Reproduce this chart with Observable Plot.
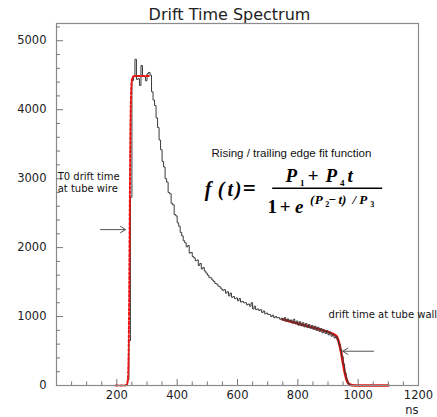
<!DOCTYPE html>
<html><head><meta charset="utf-8">
<script src="https://cdn.jsdelivr.net/npm/d3@7"></script>
<script src="https://cdn.jsdelivr.net/npm/@observablehq/plot@0.6"></script>
<style>body{margin:0;background:#fff;} svg{display:block;}</style>
</head><body><div id="chart"></div>
<script>
// Histogram: 5 ns bins starting at 200 ns
const firstBin = 200;
const binWidth = 5;
const counts = [
  0,0,0,0,0,0,0,80,650,2730,                       // 200-245
  4420,4480,4730,4440,4450,4350,4640,4480,4480,4420, // 250-295
  4520,4540,4500,4260,4140,4060,3880,3740,3560,3420, // 300-345
  3250,3170,3000,2950,2800,2780,2640,2620,2480,2460, // 350-395
  2360,2310,2220,2170,2100,2070,2010,2030,1920,1930, // 400-445
  1870,1850,1810,1820,1740,1770,1690,1710,1660,1630, // 450-495
  1600,1570,1560,1530,1510,1480,1470,1440,1430,1400, // 500-545
  1380,1390,1340,1360,1300,1340,1280,1290,1260,1270, // 550-595
  1230,1260,1210,1220,1200,1200,1170,1180,1150,1200, // 600-645
  1110,1150,1100,1110,1090,1100,1060,1080,1040,1050, // 650-695
  1030,1030,1000,1020,985,1000,980,985,960,975,      // 700-745
  945,985,930,965,925,950,905,960,895,935,           // 750-795
  875,925,865,910,850,900,840,885,830,870,           // 800-845
  815,860,800,845,785,825,765,805,755,795,           // 850-895
  735,775,715,740,690,710,660,600,520,420,           // 900-945
  310,180,90,35,10,0,0,0,0,0                         // 950-995
];

// Fit curves
const riseFitT = [196, 225, 232, 236, 239, 241, 243, 245, 247, 250, 254, 260, 280, 308];
const riseFitV = [0,   0,   10,  60,  420, 1300,2600,3700,4200,4430,4480,4490,4490,4490];
const trailFitT = [749, 800, 850, 900, 920, 930, 937, 944, 950, 956, 962, 970, 980, 1000, 1100];
const trailFitV = [960, 900, 840, 775, 740, 700, 610, 470, 320, 180, 80,  20,  4,   0,    0];

// Axes
const xTickLabels = [200, 400, 600, 800, 1000, 1200];
const xMajorTicks = [200, 400, 600, 800, 1000];
const xMinorTicks = [50,100,150,250,300,350,450,500,550,650,700,750,850,900,950,1050,1100,1150];
const yTickLabels = [0, 1000, 2000, 3000, 4000, 5000];
const yMajorTicks = [1000, 2000, 3000, 4000, 5000];
const yMinorTicks = [200,400,600,800,1200,1400,1600,1800,2200,2400,2600,2800,3200,3400,3600,3800,4200,4400,4600,4800,5200];

// Annotations (data coordinates)
const notes = [
  {t: 4, v: 2950, text: "T0 drift time\nat tube wire", font: "DejaVu Sans", size: 10},
  {t: 514, v: 3377, text: "Rising / trailing edge fit function", font: "Liberation Sans", size: 11.5},
  {t: 902, v: 1043, text: "drift time at tube wall", font: "DejaVu Sans", size: 10}
];
const arrows = [
  {t1: 146, v1: 2261, t2: 229, v2: 2261},
  {t1: 1051, v1: 497, t2: 949, v2: 497}
];
const formulaAnchor = {t: 899, v: 2855};

const hist = counts.map((v, i) => ({t: firstBin + i * binWidth, v}));
hist.push({t: firstBin + counts.length * binWidth, v: 0});
const rise = riseFitT.map((t, i) => ({t, v: riseFitV[i]}));
const trail = trailFitT.map((t, i) => ({t, v: trailFitV[i]}));

const plot = Plot.plot({
  width: 437, height: 417,
  marginLeft: 56, marginRight: 19, marginTop: 23, marginBottom: 32,
  style: {fontFamily: "DejaVu Sans", background: "#fff"},
  x: {domain: [0, 1200]},
  y: {domain: [0, 5250]},
  marks: [
    Plot.line(trail, {x: "t", y: "v", stroke: "#e8100c", strokeWidth: 2.6, curve: "monotone-x"}),
    Plot.line(hist, {x: "t", y: "v", curve: "step-after", stroke: "#3a3a3a", strokeWidth: 1}),
    Plot.line(rise, {x: "t", y: "v", stroke: "#ee1111", strokeWidth: 2, strokeDasharray: "2.5,2", curve: "monotone-x"}),
    Plot.frame({stroke: "#8a8a8a", strokeWidth: 1.2}),
    Plot.tickX(xMajorTicks, {x: d => d, insetTop: 356, stroke: "#777"}),
    Plot.tickX(xMinorTicks, {x: d => d, insetTop: 358.5, stroke: "#777"}),
    Plot.tickY(yMajorTicks, {y: d => d, insetRight: 355, stroke: "#777"}),
    Plot.tickY(yMinorTicks, {y: d => d, insetRight: 358, stroke: "#777"}),
    Plot.axisX({ticks: xTickLabels, tickFormat: d => String(d), tickSize: 0, tickPadding: 5, label: null, fontSize: 11.5, fill: "#222"}),
    Plot.axisY({ticks: yTickLabels, tickFormat: d => String(d), tickSize: 0, tickPadding: 10, label: null, fontSize: 11.5, fill: "#222"}),
    Plot.text(["ns"], {frameAnchor: "bottom-right", lineAnchor: "middle", dy: 25, dx: 0, textAnchor: "end", fontSize: 11.5, fill: "#222"}),
    Plot.text(["Drift Time Spectrum"], {frameAnchor: "top", lineAnchor: "middle", dy: -9, dx: -8, fontSize: 16, fill: "#222"}),
    Plot.arrow(arrows, {x1: "t1", y1: "v1", x2: "t2", y2: "v2", stroke: "#555", strokeWidth: 1, headLength: 9, headAngle: 64}),
    ...notes.map(n => Plot.text([n], {x: "t", y: "v", text: "text", textAnchor: "start", fontFamily: n.font, fontSize: n.size, fill: "#111", lineHeight: 1.25}))
  ]
});

// Formula, positioned through the plot's scales; each line is one text element
const sx = plot.scale("x"), sy = plot.scale("y");
const cx = sx.apply(formulaAnchor.t), cy = sy.apply(formulaAnchor.v);
const g = d3.select(plot).append("g")
  .attr("font-family", "'Liberation Serif', 'Times New Roman', serif")
  .attr("font-weight", "bold").attr("font-style", "italic").attr("fill", "#000");
function group(parts) {
  const t = g.append("text");
  for (const [str, dx, dy, size, upright] of parts) {
    const s = t.append("tspan").attr("x", cx + dx).attr("y", cy + dy).attr("font-size", size).text(str);
    if (upright) s.attr("font-style", "normal");
  }
}
group([["f", -119, 8, 20], ["(", -106, 8, 20], ["t", -97, 8, 20], [")", -89, 8, 20], ["=", -78, 8, 23, true]]);
group([["P", -36, -6.5, 19], ["1", -25, -2.5, 9, true], ["+", -14, -6.5, 19, true],
       ["P", 4, -6.5, 19], ["4", 15, -2.5, 9, true], ["t", 23, -6.5, 19]]);
g.append("line").attr("x1", cx - 55).attr("x2", cx + 55).attr("y1", cy).attr("y2", cy)
  .attr("stroke", "#000").attr("stroke-width", 1.5);
group([["1", -55, 25, 19, true], ["+", -42, 25, 19, true], ["e", -28, 25, 19],
       ["(", -15, 16, 13], ["P", -8.5, 16, 13], ["2", 0, 19, 8, true], ["\u2212", 5, 16, 13, true],
       ["t", 13, 16, 13], [")", 17, 16, 13], ["/", 27, 16, 13], ["P", 36, 16, 13], ["3", 45, 19, 8, true]]);

document.getElementById("chart").appendChild(plot);
</script>
</body></html>
